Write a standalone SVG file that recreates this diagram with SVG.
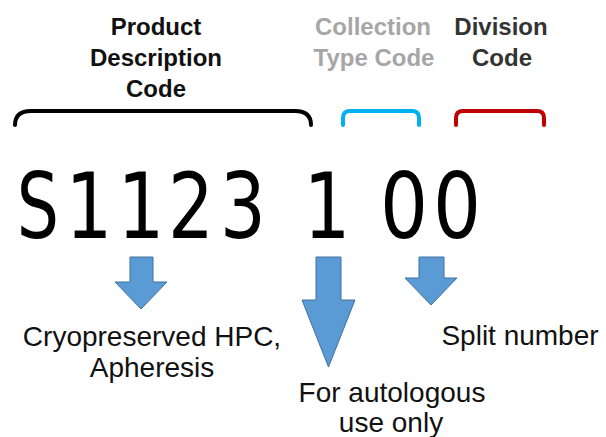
<svg xmlns="http://www.w3.org/2000/svg" width="606" height="437" viewBox="0 0 606 437">
<style>
.hd{font-family:"Liberation Sans",Arial,sans-serif;font-weight:bold;font-size:24px;text-anchor:middle}
.big{font-family:"DejaVu Sans",sans-serif;font-size:90px;text-anchor:middle;fill:#000}
.lb{font-family:"Liberation Sans",Arial,sans-serif;font-size:28px;text-anchor:middle;fill:#111}
.br{fill:none;stroke-width:4;stroke-linecap:round}
.ar{fill:#5b9bd5;stroke:#41719c;stroke-width:1}
</style>
<rect width="606" height="437" fill="#fff"/>
<g id="product-code">
<text class="hd" fill="#111"><tspan x="156" y="35">Product</tspan><tspan x="156" y="66">Description</tspan><tspan x="156" y="97">Code</tspan></text>
<path class="br" stroke="#000" d="M15,125 Q15,111 31,111 L295,111 Q311,111 311,125"/>
</g>
<g id="collection-code">
<text class="hd" fill="#a6a6a6"><tspan x="373" y="35">Collection</tspan><tspan x="374" y="66">Type Code</tspan></text>
<path class="br" stroke="#00b0f0" d="M343,125 L343,118 Q343,111 350,111 L412,111 Q419,111 419,118 L419,125"/>
</g>
<g id="division-code">
<text class="hd" fill="#333"><tspan x="501" y="35">Division</tspan><tspan x="502" y="66">Code</tspan></text>
<path class="br" stroke="#c00000" d="M456,125 L456,118 Q456,111 463,111 L537,111 Q544,111 544,118 L544,125"/>
</g>
<g id="code">
<text class="big" transform="translate(38,238) scale(0.74,1)">S</text>
<text class="big" transform="translate(89,238) scale(0.82,1)">1</text>
<text class="big" transform="translate(141,238) scale(0.82,1)">1</text>
<text class="big" transform="translate(191,238) scale(0.8,1)">2</text>
<text class="big" transform="translate(243,238) scale(0.8,1)">3</text>
<text class="big" transform="translate(327,238) scale(0.82,1)">1</text>
<text class="big" transform="translate(404,238) scale(0.84,1)">0</text>
<text class="big" transform="translate(457,238) scale(0.84,1)">0</text>
</g>
<g id="connectors">
<polygon class="ar" points="130,257 153,257 153,282 167,282 141,309 115,282 130,282"/>
<polygon class="ar" points="316,257 341,257 341,300 355,300 328.5,367 302,300 316,300"/>
<polygon class="ar" points="419,257 444,257 444,278 457,278 431,305 405,278 419,278"/>
</g>
<g id="desc-product">
<text class="lb"><tspan x="152" y="346">Cryopreserved HPC,</tspan><tspan x="152" y="377">Apheresis</tspan></text>
</g>
<g id="desc-collection">
<text class="lb"><tspan x="392" y="402">For autologous</tspan><tspan x="391" y="432">use only</tspan></text>
</g>
<g id="desc-division">
<text class="lb"><tspan x="520" y="345">Split number</tspan></text>
</g>
</svg>
